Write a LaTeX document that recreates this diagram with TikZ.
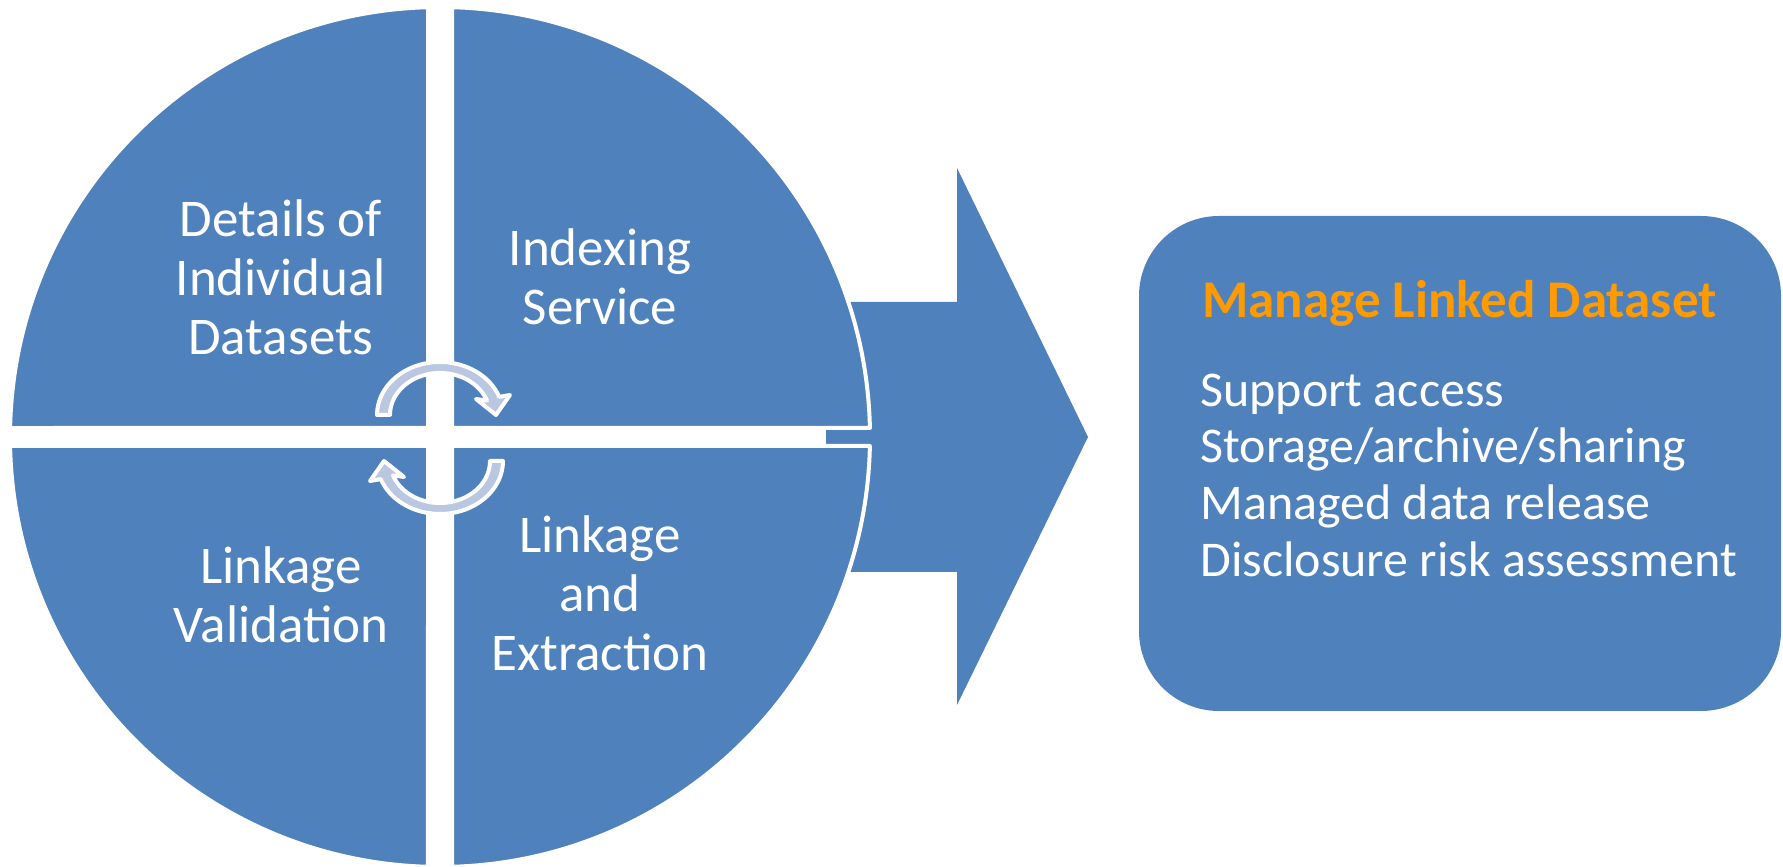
\documentclass[tikz,border=0pt]{standalone}
\usepackage{fontspec}
\setmainfont{Carlito}
\usepackage{xcolor}
\usepackage{tikz}
\definecolor{qblue}{HTML}{4F81BD}
\definecolor{cycblue}{HTML}{B9C7E1}
\definecolor{titleorange}{HTML}{FF9A00}

\begin{document}
\begin{tikzpicture}[x=0.5pt,y=0.5pt,
		quad/.style={fill=qblue,draw=white,line width=2pt,line join=round},
		cyc/.style={fill=cycblue,draw=white,line width=2pt,line join=round},
		lbl/.style={text=white,align=center,inner sep=0pt,font=\fontsize{26.5}{29.5}\selectfont},
		item/.style={text=white,anchor=base west,inner sep=0pt,font=\fontsize{25}{28.5}\selectfont}]
		\useasboundingbox (0,0) rectangle (1783,867);
		% big arrow, behind the circle
		\fill[qblue] (826,565) -- (957,565) -- (957,699) -- (1088,430) -- (957,162) -- (957,295) -- (826,295) -- cycle;
		% the four quarters
		\draw[quad] (452,439) -- (869.9,439) arc[start angle=1.2,end angle=88.4,radius=430] -- cycle;
		\draw[quad] (428,439) -- (428,859.8) arc[start angle=91.6,end angle=178.8,radius=430] -- cycle;
		\draw[quad] (428,421) -- (10.1,421) arc[start angle=181.2,end angle=268.4,radius=430] -- cycle;
		\draw[quad] (452,421) -- (452,0.2) arc[start angle=271.6,end angle=358.8,radius=430] -- cycle;
		% cycle arrows
		\foreach \r in {0,180}
			\draw[cyc,rotate around={\r:(440,429)}] (390,452) -- (377,452) arc[start angle=180,end angle=20,x radius=63,y radius=53] -- (510,472) -- (496,452) -- (476,468) -- (487,466.4) arc[start angle=20,end angle=180,x radius=50,y radius=42] -- cycle;
		\node[lbl] (details) at (281,590) {Details of\\Individual\\Datasets};
		\node[lbl] (indexing) at (600,590) {Indexing\\Service};
		\node[lbl] (validation) at (281,272) {Linkage\\Validation};
		\node[lbl] (extraction) at (600,274) {Linkage\\and\\Extraction};
		% result box
		\node[fill=qblue,rounded corners=40pt,minimum width=321pt,minimum height=247.5pt,inner sep=0pt] (linked) at (1460,403.5) {};
		\node[anchor=base west,inner sep=0pt,text=titleorange,font=\bfseries\fontsize{26.5}{30}\selectfont] (title) at (1202,549) {Manage Linked Dataset};
		\node[item] (item1) at (1200,460) {Support access};
		\node[item] (item2) at (1200,404) {Storage/archive/sharing};
		\node[item] (item3) at (1200,347) {Managed data release};
		\node[item] (item4) at (1200,290) {Disclosure risk assessment};
	\end{tikzpicture}
\end{document}
